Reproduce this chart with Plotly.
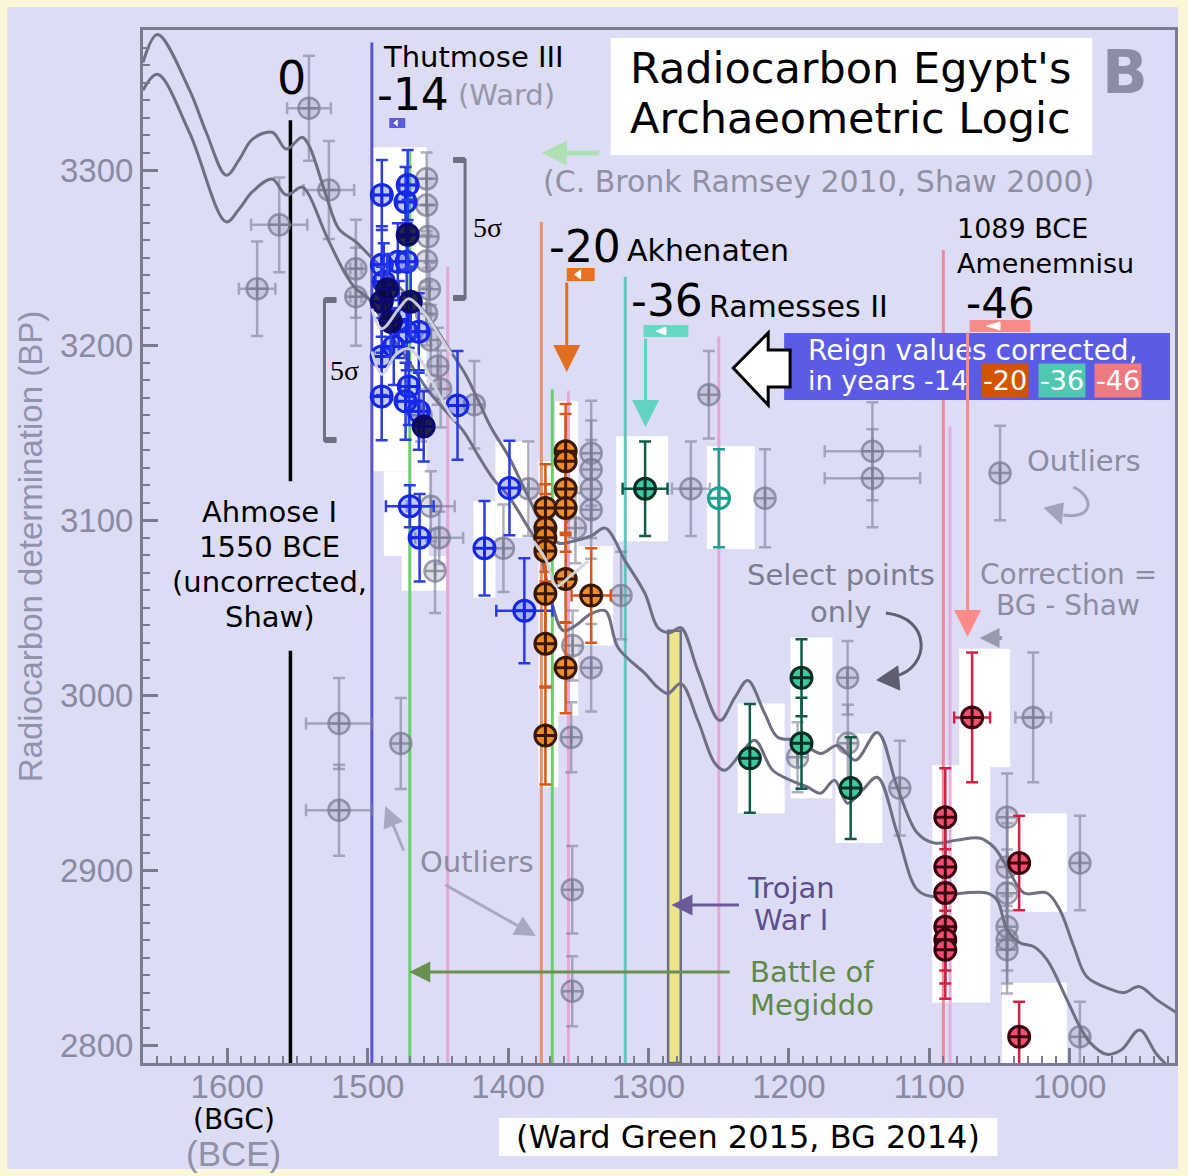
import plotly.graph_objects as go

# ---------------- data (year BCE / radiocarbon BP) ----------------
curve_hi_year = [1660, 1649.7, 1627, 1615, 1600.7, 1591.5, 1582, 1568, 1558, 1546.7, 1541.8, 1529.7, 1520.5, 1508.4,
                 1499.2, 1488.5, 1477.8, 1461.5, 1442.3, 1430.3, 1421, 1411.8, 1399.7, 1387.6, 1374.9, 1364.2, 1353.6,
                 1340.8, 1330.8, 1316.6, 1302.4, 1293.2, 1284.7, 1276.9, 1264.8, 1249.2, 1238.5, 1229.3, 1217.2, 1208,
                 1193.8, 1177.4, 1165.3, 1152.6, 1137, 1122.8, 1108.5, 1096.5, 1080.2, 1063.8, 1054, 1044.6, 1032.5,
                 1016.2, 1007, 997, 987.8, 970, 961.5, 950.2, 938.1, 924]
curve_hi_bp = [3361.5, 3377.5, 3346, 3321.6, 3297, 3306, 3317.7, 3321.6, 3312, 3318.8, 3314, 3285.8, 3266.4, 3259,
               3251.6, 3243, 3233.4, 3220.8, 3198.1, 3183.3, 3167.9, 3152.5, 3136.6, 3116.6, 3096.7, 3087, 3088,
               3091, 3095.5, 3076.8, 3058, 3038.6, 3035.8, 3038.6, 3014, 2985.6, 2998.7, 3008.4, 2989.6, 2976,
               2974.3, 2966.8, 2971.4, 2962.9, 2978.8, 2947.5, 2921.3, 2915.6, 2917.3, 2918.4, 2913.3, 2901.9, 2887.1,
               2887.1, 2877.4, 2856.4, 2839.3, 2831.9, 2830.2, 2833.6, 2826.2, 2818.8]
curve_lo_year = [1660, 1649.7, 1627, 1600.7, 1591.5, 1582.2, 1568, 1558.1, 1546.7, 1541.8, 1529.7, 1515.5, 1508.4,
                 1499.2, 1485, 1470.7, 1456.5, 1442.3, 1431.7, 1421, 1410.4, 1399.7, 1387.6, 1378.4, 1369.2, 1360.7,
                 1352.1, 1340.8, 1330.8, 1321.6, 1302.4, 1293.2, 1286.1, 1276.9, 1264.8, 1252.7, 1245.6, 1234.2,
                 1224.3, 1211.5, 1198.8, 1186.6, 1177.4, 1167.5, 1158.3, 1147.7, 1137, 1122.8, 1108.5, 1096.5, 1075.2,
                 1058.9, 1051.7, 1044.6, 1035.4, 1025.4, 1016.2, 1002, 992.8, 985.7, 973.6, 963.1, 950.2, 938.1, 924]
curve_lo_bp = [3345.6, 3354.7, 3321.6, 3270.4, 3277.8, 3287.5, 3294.9, 3285.8, 3290.3, 3285.8, 3263, 3240.2, 3232.2,
               3226.5, 3207.7, 3190.7, 3173.6, 3160.5, 3150.8, 3136.6, 3123.5, 3113.8, 3098.4, 3085.3, 3054, 3036.9,
               3039.7, 3046.6, 3048.3, 3027.2, 3012.4, 3004.4, 3001, 3006.7, 2985.6, 2961.2, 2957.2, 2966.8,
               2974.3, 2957.2, 2951.5, 2947.5, 2944.1, 2951.5, 2938.4, 2945.8, 2953.2, 2921.3, 2888.9, 2884.9, 2887.1,
               2887.1, 2883.1, 2866.1, 2858.6, 2856.4, 2849, 2826.2, 2810.8, 2801.8, 2795, 2797.6, 2808.9, 2795, 2783.6]

# shifted curve segments (light)
shift_a_year = [1497, 1489.9, 1477.8, 1470.7, 1458.7, 1449.4, 1440.2]
shift_a_bp = [3220.8, 3209.4, 3220.8, 3226.5, 3217.4, 3206, 3194.6]
shift_b_year = [1497, 1489.9, 1480, 1470.7, 1461.5, 1451.6, 1442.3, 1437.4]
shift_b_bp = [3196.4, 3183.3, 3194.6, 3198, 3190.7, 3175.3, 3162.2, 3156.5]
shift_c_year = [1381.8, 1372.7, 1365.6, 1355.6, 1342.8]
shift_c_bp = [3088, 3076.8, 3062.5, 3068.2, 3076.8]

# unselected (grey) dates
gray_year = [1541.8, 1527.6, 1563, 1578.7, 1508.4, 1508.4, 1520.4, 1520.4, 1476.4,
             1458, 1458, 1457, 1458, 1456, 1458, 1455, 1450, 1448, 1462,
             1455, 1449, 1452, 1424, 1385.5, 1403.3,
             1340.8, 1340.8, 1340.8, 1340.8, 1352, 1319.5, 1354, 1340.8, 1355, 1354.3, 1354.3,
             1269.8, 1217, 1140.5, 1140.5, 1049.6, 1257, 1158.2, 1158, 1121, 1193.8, 1026,
             1044.6, 1044.6, 1044.6, 1044.6, 1044.6, 1044.6, 992.7, 992.7]
gray_bp = [3335.3, 3288.6, 3268.7, 3232.2, 3243.6, 3227.7, 2983.9, 2934.4, 2972.5,
           3295, 3280, 3262, 3248, 3232, 3218, 3203, 3188, 3175, 3160,
           3108, 3090, 3071, 3166, 3118, 3084,
           3138.3, 3129, 3117.8, 3106, 3095.5, 3057, 3028.4, 3015.8, 2976, 2889, 2831,
           3118, 3112.6, 3139.4, 3124, 3127, 3171.7, 3010, 2972.6, 2947, 2964.6, 2987.4,
           2930.4, 2901.9, 2887, 2867.8, 2860.4, 2854.7, 2904.2, 2805]
gray_xerr = [15.6, 18, 20, 13, 4, 4, 23.5, 23.5, 0,
             0, 0, 0, 0, 0, 0, 0, 0, 0, 0,
             17, 17, 0, 0, 0, 0,
             0, 0, 0, 0, 0, 0, 0, 0, 0, 0, 0,
             13.5, 0, 34, 34, 0, 0, 0, 0, 0, 0, 12.7,
             0, 0, 0, 0, 0, 0, 0, 0]
gray_yerr = [30, 28, 27, 27, 28, 28, 26, 26, 26,
             15, 15, 18, 15, 15, 18, 20, 22, 22, 15,
             20, 15, 24, 25, 27, 25,
             30, 28, 28, 28, 20, 25, 20, 25, 20, 25, 20,
             27, 28, 28, 28, 27, 25, 21, 22, 27, 20, 37,
             25, 25, 25, 25, 25, 25, 27, 20]

# Thutmose III (-14)
blue_year = [1489.9, 1471.5, 1473, 1489.9, 1488.5, 1478.5, 1472.2, 1477.8, 1472.2, 1463.6, 1490, 1481.4, 1490,
             1470.7, 1463.6, 1473, 1470, 1463, 1436, 1399, 1416.8, 1388.4]
blue_bp = [3285.8, 3291.5, 3281.8, 3245.9, 3236.2, 3247.6, 3247.6, 3214.6, 3207.7, 3207.7, 3193.5, 3199.2, 3170.7,
           3176.4, 3162.2, 3167.9, 3108, 3090, 3165.6, 3118.4, 3084, 3048.3]
blue_xerr = [6, 6, 6, 6, 6, 6, 6, 6, 6, 6, 6, 6, 6, 6, 6, 6, 17, 6, 0, 0, 0, 20]
blue_yerr = [20, 20, 20, 22, 22, 22, 22, 22, 22, 22, 22, 22, 25, 22, 22, 22, 12, 25, 31, 27, 27, 30]
navy_year = [1471.5, 1490, 1469.3, 1483.5, 1460.1, 1486]
navy_bp = [3263, 3224.8, 3224.8, 3213.4, 3153.6, 3232]
navy_yerr = [20, 20, 20, 20, 20, 20]

# Akhenaten (-20)
orange_year = [1373.4, 1373.4, 1373.4, 1373.4, 1373.4, 1373.4, 1373.4, 1359, 1359, 1359, 1359, 1359, 1359, 1340.8]
orange_bp = [3107, 3095.6, 3090, 3082.4, 3058, 3029.5, 2977, 3139.4, 3133.7, 3117.8, 3107, 3066.5, 3015.8, 3057]
orange_xerr = [0, 0, 0, 0, 0, 0, 0, 0, 0, 0, 0, 0, 0, 14]
orange_yerr = [25, 25, 25, 25, 25, 25, 28, 27, 27, 25, 25, 25, 26, 27]

# Ramesses II (-36)
teal_year = [1302.4, 1227.8, 1191, 1191, 1156]
teal_bp = [3118, 2964, 3010, 2972.6, 2947]
teal_xerr = [16, 0, 0, 0, 0]
teal_yerr = [27, 31, 22, 26, 29]
teal_open_year = [1249.8]
teal_open_bp = [3112.6]
teal_open_yerr = [28]

# Amenemnisu (-46)
red_year = [1069.5, 1088.6, 1088.6, 1088.6, 1088.6, 1088.6, 1088.6, 1036, 1036]
red_bp = [2987.4, 2930.4, 2901.9, 2887.1, 2867.8, 2860.4, 2854.7, 2904.2, 2805]
red_xerr = [12.8, 0, 0, 0, 0, 0, 0, 0, 0]
red_yerr = [37, 28, 25, 25, 25, 25, 28, 27, 20]

# white highlight boxes behind the selected points: (year0, year1, bp0, bp1)
highlight_boxes = [(1497, 1458, 3313, 3128), (1488.5, 1456.5, 3128, 3079.6), (1475.7, 1442.3, 3079.6, 3059.7),
                   (1424.6, 1409, 3111, 3055.7), (1409, 1384, 3145, 3090), (1378.4, 1364.2, 3133.7, 2947.5),
                   (1366.3, 1350, 3167.9, 2988.5), (1350, 1325.2, 3085.3, 3028.4), (1323, 1286, 3148, 3088),
                   (1258.4, 1224.3, 3142.3, 3083.6), (1236.4, 1203, 2995.3, 2932.7), (1198.8, 1169, 3033, 2941.2),
                   (1166.8, 1133.4, 2978.2, 2915.6), (1097.9, 1056.7, 2960, 2824.5), (1078.7, 1042.5, 3026.6, 2958.9),
                   (1043.2, 1002, 2932.7, 2876.3), (1048.2, 1002, 2835.9, 2790)]

# reign marker lines
line_year = [1497, 1470, 1443, 1376.3, 1368.5, 1357, 1316.5, 1249.9, 1090, 1085.2]
line_top = [3372.9, 3311.4, 3244.8, 3270.4, 3174.7, 3173.6, 3239, 3204.9, 3254.4, 3153.6]
line_color = ['#5454d8', '#6ccd6c', '#e6a6da', '#e8906e', '#6ccd6c', '#e6a6da', '#62c6be', '#e6a6da', '#f2879a',
              '#e2aee0']
ahmose_year = 1555
ahmose_segments = [(3328.5, 3122.3), (3025.5, 2790)]
trojan_band = (1286, 1277)
trojan_top = 3036.9

x_ticks = [1600, 1500, 1400, 1300, 1200, 1100, 1000]
y_ticks = [2800, 2900, 3000, 3100, 3200, 3300]
X_RANGE = [1660, 925]
Y_RANGE = [2790, 3380]

# ---------------- layout helpers ----------------
W, H = 1188, 1176
ML, MR, MT, MB = 143, 10, 30, 113
PW, PH = W - ML - MR, H - MT - MB


def fx(p):
    return (p - ML) / PW


def fy(p):
    return (H - MB - p) / PH


fig = go.Figure()

gray_col = 'rgba(128,128,152,0.62)'
fig.add_trace(go.Scatter(
    x=gray_year, y=gray_bp, mode='markers',
    marker=dict(symbol='circle-cross', size=21, color='rgba(150,150,172,0.30)',
                line=dict(color='rgba(118,118,142,0.72)', width=2.5)),
    error_y=dict(type='data', array=gray_yerr, color=gray_col, thickness=2.5, width=6),
    error_x=dict(type='data', array=gray_xerr, color=gray_col, thickness=2.5, width=6),
    hoverinfo='skip'))

for xs, ys in [(curve_hi_year, curve_hi_bp), (curve_lo_year, curve_lo_bp)]:
    fig.add_trace(go.Scatter(x=xs, y=ys, mode='lines', line=dict(color='#6e6e84', width=3, shape='spline'),
                             hoverinfo='skip'))


def pts(xs, ys, xe, ye, fill, edge, ecol, size=21):
    fig.add_trace(go.Scatter(
        x=xs, y=ys, mode='markers',
        marker=dict(symbol='circle-cross', size=size, color=fill, line=dict(color=edge, width=3)),
        error_y=dict(type='data', array=ye, color=ecol, thickness=2.5, width=6),
        error_x=dict(type='data', array=xe, color=ecol, thickness=2.5, width=6),
        hoverinfo='skip'))


pts(blue_year, blue_bp, blue_xerr, blue_yerr, 'rgba(40,60,255,0.28)', '#1428e6', '#2a3ce8')
pts(navy_year, navy_bp, [0] * len(navy_year), navy_yerr, 'rgba(8,8,50,0.88)', '#0a0a70', '#2a3ce8')
pts(orange_year, orange_bp, orange_xerr, orange_yerr, 'rgba(236,132,28,0.92)', '#3a1800', '#d8581a')
pts(teal_year, teal_bp, teal_xerr, teal_yerr, '#3cc8a0', '#062e22', '#0f5c48')
pts(teal_open_year, teal_open_bp, [0], teal_open_yerr, 'rgba(255,255,255,0)', '#1aa090', '#1aa090')
pts(red_year, red_bp, red_xerr, red_yerr, '#f0506e', '#3a0010', '#d22044')

for xs, ys in [(shift_a_year, shift_a_bp), (shift_b_year, shift_b_bp), (shift_c_year, shift_c_bp)]:
    fig.add_trace(go.Scatter(x=xs, y=ys, mode='lines', line=dict(color='rgba(212,212,222,0.95)', width=3,
                                                                   shape='spline'), hoverinfo='skip'))

# ---------------- shapes ----------------
shapes = []
for x0, x1, y0, y1 in highlight_boxes:
    shapes.append(dict(type='rect', xref='x', yref='y', x0=x0, x1=x1, y0=y0, y1=y1, fillcolor='white',
                       line=dict(width=0), layer='below'))
shapes.append(dict(type='rect', xref='x', yref='y', x0=trojan_band[0], x1=trojan_band[1], y0=Y_RANGE[0],
                   y1=trojan_top, fillcolor='#eee48a', line=dict(color='#6e6e84', width=2.5), layer='below'))
for yr, top, col in zip(line_year, line_top, line_color):
    shapes.append(dict(type='line', xref='x', yref='y', x0=yr, x1=yr, y0=top, y1=Y_RANGE[0],
                       line=dict(color=col, width=3), layer='below'))
for top, bot in ahmose_segments:
    shapes.append(dict(type='line', xref='x', yref='y', x0=ahmose_year, x1=ahmose_year, y0=top, y1=bot,
                       line=dict(color='black', width=3.5), layer='below'))


def prect(x0, y0, x1, y1, fill, layer='above', lc=None, lw=0):
    shapes.append(dict(type='rect', xref='paper', yref='paper', x0=fx(x0), x1=fx(x1), y0=fy(y1), y1=fy(y0),
                       fillcolor=fill, line=dict(width=lw, color=lc or fill), layer=layer))


def ppath(points, color, width=3, fill=None, close=False, curve=False):
    if curve:
        p = points
        d = 'M %f,%f C %f,%f %f,%f %f,%f' % (fx(p[0][0]), fy(p[0][1]), fx(p[1][0]), fy(p[1][1]),
                                             fx(p[2][0]), fy(p[2][1]), fx(p[3][0]), fy(p[3][1]))
    else:
        d = 'M ' + ' L '.join('%f,%f' % (fx(a), fy(b)) for a, b in points)
        if close:
            d += ' Z'
    shapes.append(dict(type='path', xref='paper', yref='paper', path=d,
                       line=dict(color=color, width=width), fillcolor=fill or 'rgba(0,0,0,0)', layer='above'))


# outer cream border
shapes.append(dict(type='rect', xref='paper', yref='paper', x0=fx(0), x1=fx(W), y0=fy(H), y1=fy(0),
                   line=dict(color='#fbf7d6', width=14), fillcolor='rgba(0,0,0,0)', layer='above'))
# title box
prect(612, 38, 1095, 155, 'white')
# reign-correction box and big arrow
prect(786, 333, 1173, 400, '#5b5be6')
ppath([(735, 368), (770, 333), (770, 350), (792, 350), (792, 387), (770, 387), (770, 405)], 'black', 3,
      fill='white', close=True)
# flags
for (x0, y0, x1, y1, col) in [(390, 118, 406, 128, '#5a5ae0'), (568, 268, 596, 281, '#e87020'),
                              (645, 325, 690, 337, '#66d8c4'), (972, 320, 1033, 332, '#f88a8a')]:
    prect(x0, y0, x1, y1, col)
    w = x1 - x0
    cy = (y0 + y1) / 2
    ppath([(x0 + 0.28 * w, cy), (x0 + 0.5 * w, y0 + 2), (x0 + 0.5 * w, y1 - 2)], 'white', 1, fill='white',
          close=True)
# 5 sigma brackets
ppath([(454, 160), (466, 160), (466, 298), (454, 298)], '#6e6e84', 3)
prect(454, 157, 466, 163, '#6e6e84')
prect(454, 295, 466, 301, '#6e6e84')
ppath([(337, 300), (325, 300), (325, 440), (337, 440)], '#6e6e84', 3)
prect(325, 297, 337, 303, '#6e6e84')
prect(325, 437, 337, 443, '#6e6e84')
# curved arrows
ppath([(888, 613), (935, 618), (932, 668), (898, 676)], '#5e5e70', 3, curve=True)
ppath([(879, 680), (900, 666), (902, 690)], '#5e5e70', 1, fill='#5e5e70', close=True)
ppath([(1076, 487), (1098, 497), (1096, 520), (1066, 515)], '#a2a2ba', 3, curve=True)
ppath([(1047, 508), (1066, 503), (1064, 524)], '#a2a2ba', 1, fill='#a2a2ba', close=True)
# bottom caption box
prect(500, 1118, 1000, 1156, 'white')

# ---------------- annotations ----------------
anns = []


def T(s, x, y, size, color='#000000', xa='center', fam='DejaVu Sans', bg=None):
    d = dict(text=s, x=fx(x), y=fy(y), xref='paper', yref='paper', showarrow=False, xanchor=xa, yanchor='middle',
             align=xa if xa in ('left', 'right') else 'center',
             font=dict(family=fam, size=size, color=color))
    if bg:
        d.update(bgcolor=bg, borderpad=1)
    anns.append(d)


def A(hx, hy, tx, ty, color, width, size=1.0, head=2):
    anns.append(dict(text='', x=fx(hx), y=fy(hy), xref='paper', yref='paper', axref='pixel', ayref='pixel',
                     ax=tx - hx, ay=ty - hy, showarrow=True, arrowhead=head, arrowsize=size, arrowwidth=width,
                     arrowcolor=color, standoff=0, startstandoff=0))


T('0', 292, 78, 46)
T('Thutmose III', 382, 57, 29, xa='left')
T('-14', 376, 95, 44, xa='left')
T('(Ward)', 457, 95, 29, '#9696a8', xa='left')
T("Radiocarbon Egypt's", 853, 68, 43)
T('Archaeometric Logic', 853, 118, 43)
T('<b>B</b>', 1128, 72, 60, '#8c8ca4')
T('(C. Bronk Ramsey 2010, Shaw 2000)', 820, 181, 30, '#9090a4')
T('-20', 548, 246, 44, xa='left')
T('Akhenaten', 626, 251, 30, xa='left')
T('-36', 630, 301, 44, xa='left')
T('Ramesses II', 709, 306, 30, xa='left')
T('1089 BCE<br>Amenemnisu', 957, 246, 27, xa='left')
T('-46', 966, 303, 42, xa='left')
T('Reign values corrected,', 808, 350, 28, 'white', xa='left')
T('in years -14', 808, 381, 27, 'white', xa='left')
T('-20', 1008, 381, 27, 'white', bg='#d35400')
T('-36', 1065, 381, 27, 'white', bg='#4fc8b2')
T('-46', 1121, 381, 27, 'white', bg='#f07a82')
T('Outliers', 1087, 461, 29, '#8c8ca2')
T('Ahmose I', 270, 512, 29)
T('1550 BCE', 270, 547, 29)
T('(uncorrected,', 270, 582, 29)
T('Shaw)', 270, 617, 29)
T('Select points', 843, 575, 29, '#7c7c90')
T('only', 843, 612, 29, '#7c7c90')
T('Correction =', 1071, 574, 28, '#8c8ca2')
T('BG - Shaw', 1071, 606, 28, '#8c8ca2')
T('5σ', 488, 228, 28, fam='Liberation Serif')
T('5σ', 345, 370, 28, fam='Liberation Serif')
T('Outliers', 478, 862, 29, '#8c8ca2')
T('Trojan', 793, 888, 29, '#5e4e8e')
T('War I', 793, 920, 29, '#5e4e8e')
T('Battle of', 814, 972, 29, '#5e8a48')
T('Megiddo', 814, 1005, 29, '#5e8a48')
T('(BGC)', 234, 1119, 28)
T('(BCE)', 234, 1153, 35, '#9090a8', fam='Liberation Sans')
T('(Ward Green 2015, BG 2014)', 750, 1137, 32)

A(568, 372, 568, 281, '#e07020', 3, 1.8)
A(647, 427, 647, 337, '#62d2c2', 3, 1.8)
A(970, 637, 970, 331, '#ff8a8a', 3, 1.8)
A(543, 153, 602, 153, '#aee0b4', 5, 1.0)
A(982, 638, 1006, 638, '#9a9aae', 4, 1.0)
A(673, 905, 742, 905, '#6a5a9a', 3, 1.4)
A(410, 972, 732, 972, '#6a9050', 3, 1.4)
A(386, 806, 405, 852, '#a8a8c0', 3, 1.4)
A(537, 936, 445, 884, '#a8a8c0', 3, 1.4)

tickfont = dict(family='Liberation Sans', size=33, color='#8a8aa2')
axis_common = dict(showline=True, mirror=True, linecolor='#7a7a90', linewidth=3, ticks='inside', ticklen=15,
                   tickwidth=3, tickcolor='#7a7a90', showgrid=False, zeroline=False, tickfont=tickfont,
                   minor=dict(ticks='inside', ticklen=7, tickwidth=2, tickcolor='#7a7a90', dtick=10,
                              showgrid=False))

fig.update_layout(
    width=W, height=H, margin=dict(l=ML, r=MR, t=MT, b=MB),
    paper_bgcolor='#dcdcf5', plot_bgcolor='#dcdcf5', showlegend=False,
    xaxis=dict(range=X_RANGE, tickvals=x_ticks, ticktext=[str(v) for v in x_ticks], **axis_common),
    yaxis=dict(range=Y_RANGE, tickvals=y_ticks, ticktext=[str(v) for v in y_ticks],
               title=dict(text='Radiocarbon determination (BP)', standoff=8,
                          font=dict(family='Liberation Sans', size=33, color='#9292aa')),
               **axis_common),
    shapes=shapes, annotations=anns,
)
try:
    fig.update_xaxes(ticklabelstandoff=-8)
except Exception:
    pass

fig.write_html('out.html', config={'displayModeBar': False},
               post_script="document.body.style.margin='0px';document.body.style.background='#fbf7d6';")
